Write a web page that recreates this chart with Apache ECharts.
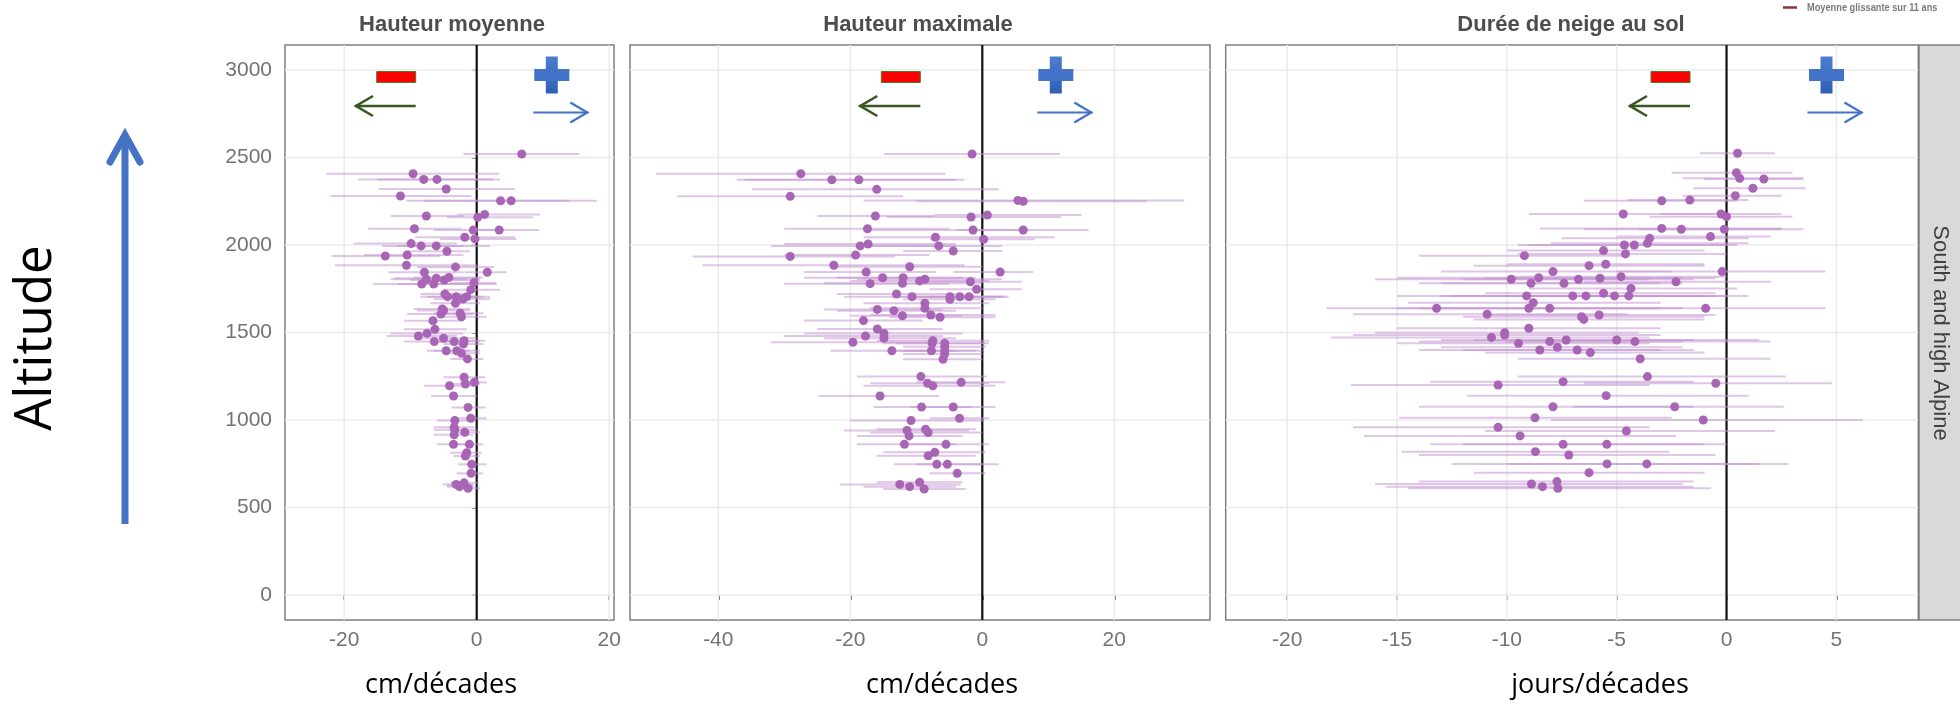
<!DOCTYPE html>
<html><head><meta charset="utf-8">
<script src="https://cdn.jsdelivr.net/npm/echarts@6/dist/echarts.min.js"></script>
<style>html,body{margin:0;padding:0;background:#fff}#c{width:1960px;height:707px}</style>
</head><body><div id="c"></div>
<script>
// ---------- DATA ----------
const altTicks = [0, 500, 1000, 1500, 2000, 2500, 3000];
const moyTicks = [-20, 0, 20];
const maxTicks = [-40, -20, 0, 20];
const dureeTicks = [-20, -15, -10, -5, 0, 5];

// Hauteur moyenne (cm/décade)
const moyAlt = [2520,2407,2375,2375,2320,2280,2253,2253,2166,2158,2175,2093,2086,2086,2044,2035,2008,1995,1995,1964,1937,1943,1884,1875,1844,1844,1804,1810,1800,1815,1777,1777,1785,1745,1720,1705,1705,1691,1705,1667,1634,1626,1606,1610,1590,1567,1518,1495,1480,1467,1448,1448,1453,1434,1396,1396,1381,1349,1244,1206,1215,1196,1137,1072,1010,997,958,944,930,915,861,861,813,794,747,695,632,641,625,610,619];
const moyVal = [6.8,-9.6,-8.0,-6.0,-4.6,-11.5,3.6,5.2,-7.6,0.15,1.2,-9.4,-0.5,3.4,-1.8,-0.25,-9.9,-8.4,-6.1,-4.5,-13.8,-10.5,-10.6,-3.2,-7.9,1.6,-7.6,-6.1,-4.9,-4.2,-8.3,-6.5,-0.4,-0.9,-4.8,-4.4,-3.1,-2.1,-1.5,-3.2,-5.2,-5.0,-5.4,-2.5,-2.3,-6.6,-6.3,-7.5,-8.8,-5.0,-6.4,-3.4,-1.9,-2.0,-4.6,-3.0,-2.3,-1.4,-1.9,-1.7,-0.35,-4.1,-3.5,-1.3,-0.9,-3.3,-3.4,-3.3,-1.8,-3.4,-3.5,-1.1,-1.5,-1.7,-0.75,-0.85,-3.1,-1.9,-2.4,-1.3,-2.6];
const moyLo = [-2.0,-22.7,-17.9,-15,-14.8,-22.1,-10.6,-8,-13.0,-4.5,-3.0,-16.4,-6.5,-1.0,-9.3,-5.5,-18.6,-14.3,-12.0,-10.6,-21.9,-17.0,-21.4,-9.0,-13.3,-1.8,-13.0,-12.5,-10.0,-9.5,-15.6,-12.0,-4.0,-5.0,-8.5,-8.5,-7.5,-6.5,-5.0,-7.0,-9.5,-9.0,-10.5,-6.5,-6.0,-11.0,-11.0,-13.0,-13.6,-9.5,-11.0,-7.0,-5.5,-5.0,-7.5,-6.5,-5.0,-4.0,-5.0,-4.0,-2.5,-8.0,-6.9,-3.8,-3.5,-6.0,-6.5,-6.5,-4.0,-6.5,-6.0,-3.5,-4.0,-3.5,-2.8,-3.0,-5.1,-4.0,-4.5,-3.0,-4.5];
const moyHi = [15.5,3.4,3.5,2.5,5.8,-0.8,14,18.1,-2.0,8.5,9.6,-2.3,4.0,9.4,5.8,6.0,-3.0,-2.0,2.0,-1.0,-5.5,-2.0,0.0,2.6,-2.0,4.5,-1.5,0.5,0.5,1.0,-1.0,3.0,3.0,3.5,-1.0,0.0,1.0,2.0,2.0,0.5,-1.0,-1.0,-0.5,1.0,1.5,-2.0,-1.5,-2.0,-3.0,0.0,-1.5,0.5,1.3,1.0,-1.0,0.5,0.5,1.0,1.3,0.5,1.5,-0.5,0.0,1.4,1.5,-0.5,-0.3,0.0,0.5,-0.5,-0.8,1.0,0.8,0.5,1.5,1.0,-0.5,0.3,-0.5,0.5,-0.5];

// Hauteur maximale (cm/décade)
const maxAlt = [2520,2407,2373,2373,2318,2278,2255,2250,2166,2160,2171,2093,2086,2086,2044,2033,2006,1995,1995,1966,1935,1943,1884,1876,1846,1846,1813,1813,1804,1795,1779,1781,1790,1747,1720,1705,1705,1690,1705,1705,1667,1632,1625,1638,1600,1596,1587,1568,1520,1495,1480,1467,1444,1453,1438,1438,1419,1396,1396,1396,1377,1347,1248,1215,1210,1196,1137,1074,1074,1010,997,947,940,928,909,861,861,815,796,747,747,695,632,644,619,606];
const maxVal = [-1.55,-27.5,-22.8,-18.7,-16.0,-29.1,5.4,6.2,-16.2,-1.7,0.77,-17.4,-1.4,6.2,-7.1,0.2,-17.3,-18.5,-6.6,-4.4,-29.1,-19.2,-22.5,-11.0,-17.6,2.7,-15.1,-12.0,-8.7,-9.5,-17.0,-12.1,-1.8,-0.85,-13.0,-10.65,-4.9,-4.9,-3.4,-2.0,-8.7,-15.9,-13.4,-8.7,-7.8,-12.1,-6.4,-18.0,-15.9,-14.9,-17.7,-14.9,-19.6,-7.5,-7.6,-5.7,-5.7,-13.7,-7.7,-5.7,-5.7,-5.95,-9.3,-3.2,-8.3,-7.5,-15.5,-9.2,-4.4,-3.45,-10.8,-8.6,-11.4,-8.2,-11.1,-11.8,-5.5,-7.2,-8.2,-6.9,-5.3,-3.8,-12.5,-9.5,-11.0,-8.8];
const maxLo = [-14.9,-49.4,-37.2,-36.0,-34.9,-46.2,-18.0,-10.0,-25.0,-14.5,-7.3,-30.0,-18.0,-3.9,-18.0,-8.0,-30.0,-32.0,-18.0,-12.0,-43.9,-30.0,-42.4,-22.0,-27.0,-4.4,-27.0,-22.0,-19.0,-20.0,-30.0,-24.0,-10.0,-8.0,-22.0,-21.0,-13.0,-12.0,-10.0,-8.0,-18.0,-24.0,-22.0,-17.0,-17.0,-20.0,-14.0,-27.0,-25.0,-27.0,-30.0,-24.0,-32.0,-16.0,-15.0,-13.0,-12.0,-23.0,-14.0,-12.0,-12.0,-12.0,-19.0,-10.0,-17.0,-18.0,-24.8,-16.5,-11.0,-8.0,-20.0,-16.0,-21.0,-17.0,-19.0,-19.0,-12.0,-15.0,-16.0,-13.4,-10.0,-8.0,-21.6,-16.0,-18.0,-15.0];
const maxHi = [11.8,-5.6,-2.7,-4.0,2.5,-12.0,30.6,25.0,-7.3,11.9,15.0,-5.0,7.0,16.1,11.0,8.0,-4.0,-4.0,3.0,3.0,-13.2,-8.0,-2.7,0.0,-7.0,7.7,-3.0,-1.0,3.0,1.0,-5.0,0.0,6.0,6.0,-3.0,-1.0,3.5,2.0,3.0,4.0,1.0,-6.0,-4.0,0.0,2.0,-3.0,2.0,-9.0,-6.0,-3.0,-6.0,-4.0,-8.0,1.0,0.5,1.0,0.5,-4.0,-1.0,0.0,0.0,0.0,0.7,3.5,1.0,2.0,-6.5,-1.5,2.0,1.0,0.2,-1.0,-2.0,0.0,-3.0,-4.0,1.0,0.5,-1.0,2.5,0.0,0.5,-3.3,-3.0,-4.0,-2.5];

// Durée de neige au sol (jours/décade)
const dureeAlt = [2524,2413,2381,2377,2324,2282,2253,2257,2177,2177,2162,2095,2090,2090,2048,2038,2010,2000,2000,1968,1949,1939,1882,1890,1848,1848,1819,1813,1804,1810,1804,1790,1781,1781,1752,1709,1709,1709,1724,1709,1709,1670,1638,1638,1638,1638,1604,1600,1590,1575,1524,1499,1486,1472,1438,1448,1457,1457,1448,1400,1415,1400,1385,1350,1248,1219,1200,1210,1139,1076,1076,1013,1000,958,937,909,861,861,819,800,749,749,699,634,648,619,610];
const dureeVal = [0.5,0.45,0.6,1.7,1.2,0.4,-2.95,-1.67,-4.7,-0.25,0.0,-2.95,-2.06,-0.1,-0.73,-3.5,-3.6,-4.65,-4.2,-5.6,-4.6,-9.2,-6.26,-5.5,-7.9,-0.2,-4.8,-8.55,-9.8,-5.76,-6.74,-2.3,-8.9,-7.4,-4.35,-9.1,-7.0,-6.4,-5.6,-5.1,-4.45,-8.8,-13.2,-9.0,-8.05,-0.95,-10.9,-5.8,-6.6,-6.5,-9.0,-10.1,-10.1,-10.7,-9.47,-8.05,-7.3,-5.0,-4.17,-8.5,-7.7,-6.8,-6.2,-3.93,-3.6,-7.44,-10.4,-0.49,-5.48,-7.9,-2.36,-8.72,-1.06,-10.4,-4.56,-9.4,-7.44,-5.45,-8.7,-7.18,-5.44,-3.63,-6.26,-8.88,-7.72,-8.38,-7.68];
const dureeLo = [-1.2,-2.5,-2.0,-1.0,-1.5,-2.0,-6.5,-4.5,-9.0,-3.0,-3.5,-8.5,-6.5,-4.0,-5.0,-7.5,-8.0,-9.5,-9.0,-10.0,-9.5,-14.0,-11.5,-10.0,-13.0,-5.0,-10.0,-15.0,-16.0,-11.0,-12.0,-6.5,-14.0,-13.0,-9.0,-15.0,-13.0,-12.5,-11.0,-10.0,-9.5,-14.5,-18.2,-15.0,-14.0,-7.0,-17.0,-11.0,-12.0,-11.5,-15.0,-16.0,-17.0,-18.0,-15.0,-14.0,-13.0,-11.5,-10.0,-14.0,-13.0,-12.0,-11.0,-9.5,-9.5,-13.5,-17.1,-6.5,-11.8,-14.0,-7.0,-14.9,-8.0,-17.0,-11.0,-16.5,-13.5,-12.0,-14.8,-14.0,-12.5,-10.0,-11.5,-16.0,-14.0,-15.5,-14.5];
const dureeHi = [2.2,3.0,3.5,3.5,3.6,2.5,0.5,1.0,-0.5,2.5,3.0,2.5,2.5,3.5,2.0,1.0,1.0,0.0,0.5,-1.0,0.0,-4.5,-1.0,-1.0,-2.5,4.5,0.0,-2.0,-3.5,-0.5,-1.5,2.0,-3.0,-2.0,0.5,-3.0,-1.0,-0.5,-0.5,0.0,1.0,-3.0,-7.0,-3.0,-2.0,4.5,-4.5,-0.5,-1.0,-1.0,-3.0,-4.0,-3.0,-3.5,-3.5,-2.0,-1.5,1.5,2.0,-3.0,-2.0,-1.5,-1.0,2.0,2.7,-1.5,-3.5,4.8,1.0,-1.5,2.6,-2.5,6.2,-3.5,2.2,-2.3,-1.0,0.0,-2.6,-0.5,1.5,2.8,-1.0,-2.0,-1.5,-1.5,-0.7];

const panelTitles = ['Hauteur moyenne', 'Hauteur maximale', 'Durée de neige au sol'];
const unitTitles = ['cm/décades', 'cm/décades', 'jours/décades'];
const stripLabel = 'South and high Alpine';
const legendLabel = 'Moyenne glissante sur 11 ans';

// ---------- LAYOUT ----------
const TOP = 45, H = 575;
const panels = [
  {alt: moyAlt, val: moyVal, lo: moyLo, hi: moyHi, ticks: moyTicks, min: -28.94, max: 20.73, left: 285, width: 329},
  {alt: maxAlt, val: maxVal, lo: maxLo, hi: maxHi, ticks: maxTicks, min: -53.38, max: 34.5, left: 630, width: 580},
  {alt: dureeAlt, val: dureeVal, lo: dureeLo, hi: dureeHi, ticks: dureeTicks, min: -22.8, max: 8.73, left: 1225.7, width: 692.6}
];
const YMIN = -142.86, YMAX = 3142.86;
const PT = '#A965B5', CI = 'rgba(196,150,210,0.55)', GRID = '#EBEBEB';
const plain = v => String(v);

const grids = [], xAxes = [], yAxes = [], series = [];
panels.forEach((p, i) => {
  grids.push({left: p.left, top: TOP, width: p.width, height: H, show: true,
    borderColor: '#7f7f7f', borderWidth: 1.5, backgroundColor: 'transparent', containLabel: false});
  xAxes.push({gridIndex: i, type: 'value', min: p.min, max: p.max,
    axisLine: {show: false}, splitLine: {show: false},
    axisTick: {show: true, length: 5, customValues: p.ticks, lineStyle: {color: '#555', width: 1.5}},
    axisLabel: {customValues: p.ticks, formatter: plain, fontSize: 21, color: '#737373', fontFamily: 'Liberation Sans', margin: 10}});
  yAxes.push({gridIndex: i, type: 'value', min: YMIN, max: YMAX,
    axisLine: {show: false}, splitLine: {show: false},
    axisTick: {show: i === 0, length: 5, customValues: altTicks, lineStyle: {color: '#555', width: 1.5}},
    axisLabel: {show: i === 0, customValues: altTicks, formatter: plain, fontSize: 21, color: '#737373', fontFamily: 'Liberation Sans', margin: 13}});
  // horizontal grid lines
  series.push({type: 'custom', xAxisIndex: i, yAxisIndex: i, z: 1, silent: true,
    data: altTicks.map(t => [0, t]),
    renderItem: (params, api) => {
      const cs = params.coordSys; const y = api.coord([0, api.value(1)])[1];
      return {type: 'line', shape: {x1: cs.x, y1: y, x2: cs.x + cs.width, y2: y}, style: {stroke: GRID, lineWidth: 1.5}};
    }});
  // vertical grid lines
  series.push({type: 'custom', xAxisIndex: i, yAxisIndex: i, z: 1, silent: true,
    data: p.ticks.map(t => [t, 0]),
    renderItem: (params, api) => {
      const cs = params.coordSys; const x = api.coord([api.value(0), 0])[0];
      return {type: 'line', shape: {x1: x, y1: cs.y, x2: x, y2: cs.y + cs.height}, style: {stroke: GRID, lineWidth: 1.5}};
    }});
  // zero reference line
  series.push({type: 'custom', xAxisIndex: i, yAxisIndex: i, z: 2, silent: true,
    data: [[0, 0]],
    renderItem: (params, api) => {
      const cs = params.coordSys; const x = api.coord([api.value(0), 0])[0];
      return {type: 'line', shape: {x1: x, y1: cs.y, x2: x, y2: cs.y + cs.height}, style: {stroke: '#111', lineWidth: 2.2}};
    }});
  // confidence intervals
  series.push({type: 'custom', xAxisIndex: i, yAxisIndex: i, z: 3, silent: true,
    encode: {x: [0, 1], y: 2},
    data: p.alt.map((a, k) => [p.lo[k], p.hi[k], a]),
    renderItem: (params, api) => {
      const a = api.coord([api.value(0), api.value(2)]);
      const b = api.coord([api.value(1), api.value(2)]);
      return {type: 'line', shape: {x1: a[0], y1: a[1], x2: b[0], y2: b[1]}, style: {stroke: CI, lineWidth: 2}};
    }});
  // points
  series.push({type: 'scatter', xAxisIndex: i, yAxisIndex: i, z: 4, silent: true,
    symbolSize: 9, itemStyle: {color: PT, opacity: 1},
    data: p.val.map((v, k) => [v, p.alt[k]])});
});

// ---------- ANNOTATIONS ----------
const BLUE = '#4472C4', GREEN = '#385723';
function annot(z, r0, a0, p0, b0) {
  const out = [];
  out.push({type: 'rect', shape: {x: z + r0, y: 71.5, width: 39, height: 11}, style: {fill: '#FF0000', stroke: '#4E7A2E', lineWidth: 1}, z: 10});
  out.push({type: 'polyline', shape: {points: [[z + r0 + 39, 106], [z + a0, 106]]}, style: {stroke: GREEN, lineWidth: 2.6, fill: null}, z: 10});
  out.push({type: 'polyline', shape: {points: [[z + a0 + 18, 96], [z + a0 + 1, 106], [z + a0 + 18, 116]]}, style: {stroke: GREEN, lineWidth: 2.6, fill: null}, z: 10});
  out.push({type: 'rect', shape: {x: z + p0 + 11.5, y: 56.5, width: 12, height: 37}, style: {fill: {type: 'linear', x: 0, y: 0, x2: 0, y2: 1, colorStops: [{offset: 0, color: '#4D7DD0'}, {offset: 1, color: '#2F5FB5'}]}}, z: 10});
  out.push({type: 'rect', shape: {x: z + p0, y: 69, width: 35, height: 12}, style: {fill: '#4273C8'}, z: 10});
  const tip = z + b0 + 55;
  out.push({type: 'polyline', shape: {points: [[z + b0, 112.5], [tip, 112.5]]}, style: {stroke: BLUE, lineWidth: 2.2, fill: null}, z: 10});
  out.push({type: 'polyline', shape: {points: [[tip - 18, 102.5], [tip - 1, 112.5], [tip - 18, 122.5]]}, style: {stroke: BLUE, lineWidth: 2.2, fill: null}, z: 10});
  return out;
}

const titleFont = {fontSize: 22, fontWeight: 'bold', fontFamily: 'Liberation Sans', fill: '#4D4D4D'};
const graphics = [
  // strip
  {type: 'rect', shape: {x: 1919, y: TOP, width: 60, height: H}, style: {fill: '#D9D9D9', stroke: '#7f7f7f', lineWidth: 1.5}, z: 5},
  {type: 'text', x: 1940, y: 333, rotation: -Math.PI / 2, style: {text: stripLabel, fontSize: 22, fontFamily: 'Liberation Sans', fill: '#404040', textAlign: 'center', textVerticalAlign: 'middle'}, z: 6},
  // panel titles
  {type: 'text', x: 452, y: 25, style: Object.assign({text: panelTitles[0], textAlign: 'center', textVerticalAlign: 'middle'}, titleFont)},
  {type: 'text', x: 918, y: 25, style: Object.assign({text: panelTitles[1], textAlign: 'center', textVerticalAlign: 'middle'}, titleFont)},
  {type: 'text', x: 1571, y: 25, style: Object.assign({text: panelTitles[2], textAlign: 'center', textVerticalAlign: 'middle'}, titleFont)},
  // unit titles
  {type: 'text', x: 441, y: 685, style: {text: unitTitles[0], fontSize: 27, fontFamily: 'Open Sans', fill: '#000', textAlign: 'center', textVerticalAlign: 'middle'}},
  {type: 'text', x: 942, y: 685, style: {text: unitTitles[1], fontSize: 27, fontFamily: 'Open Sans', fill: '#000', textAlign: 'center', textVerticalAlign: 'middle'}},
  {type: 'text', x: 1600, y: 685, style: {text: unitTitles[2], fontSize: 27, fontFamily: 'Open Sans', fill: '#000', textAlign: 'center', textVerticalAlign: 'middle'}},
  // legend
  {type: 'line', shape: {x1: 1783, y1: 7.5, x2: 1797, y2: 7.5}, style: {stroke: '#8B3535', lineWidth: 2.5}},
  {type: 'text', x: 1807, y: 8, scaleX: 0.84, style: {text: legendLabel, fontSize: 11, fontWeight: 'bold', fontFamily: 'Liberation Sans', fill: '#7a7a7a', textAlign: 'left', textVerticalAlign: 'middle'}},
  // Altitude arrow + label
  {type: 'line', shape: {x1: 125, y1: 524, x2: 125, y2: 137}, style: {stroke: BLUE, lineWidth: 7}},
  {type: 'polyline', shape: {points: [[110, 162], [125, 135], [140, 162]]}, style: {stroke: BLUE, lineWidth: 7, fill: null, lineCap: 'round', lineJoin: 'miter'}},
  {type: 'text', x: 36, y: 338, rotation: Math.PI / 2, style: {text: 'Altitude', fontSize: 51, fontFamily: 'Open Sans', fill: '#000', textAlign: 'center', textVerticalAlign: 'middle'}}
].concat(annot(476.7, -100, -121.7, 57.6, 56.6))
 .concat(annot(982.3, -101, -123, 56, 55))
 .concat(annot(1726.5, -75.5, -97.5, 82.5, 81));

const chart = echarts.init(document.getElementById('c'), null, {renderer: 'canvas'});
chart.setOption({
  animation: false,
  backgroundColor: '#ffffff',
  grid: grids, xAxis: xAxes, yAxis: yAxes, series: series,
  graphic: {elements: graphics}
});
</script></body></html>
